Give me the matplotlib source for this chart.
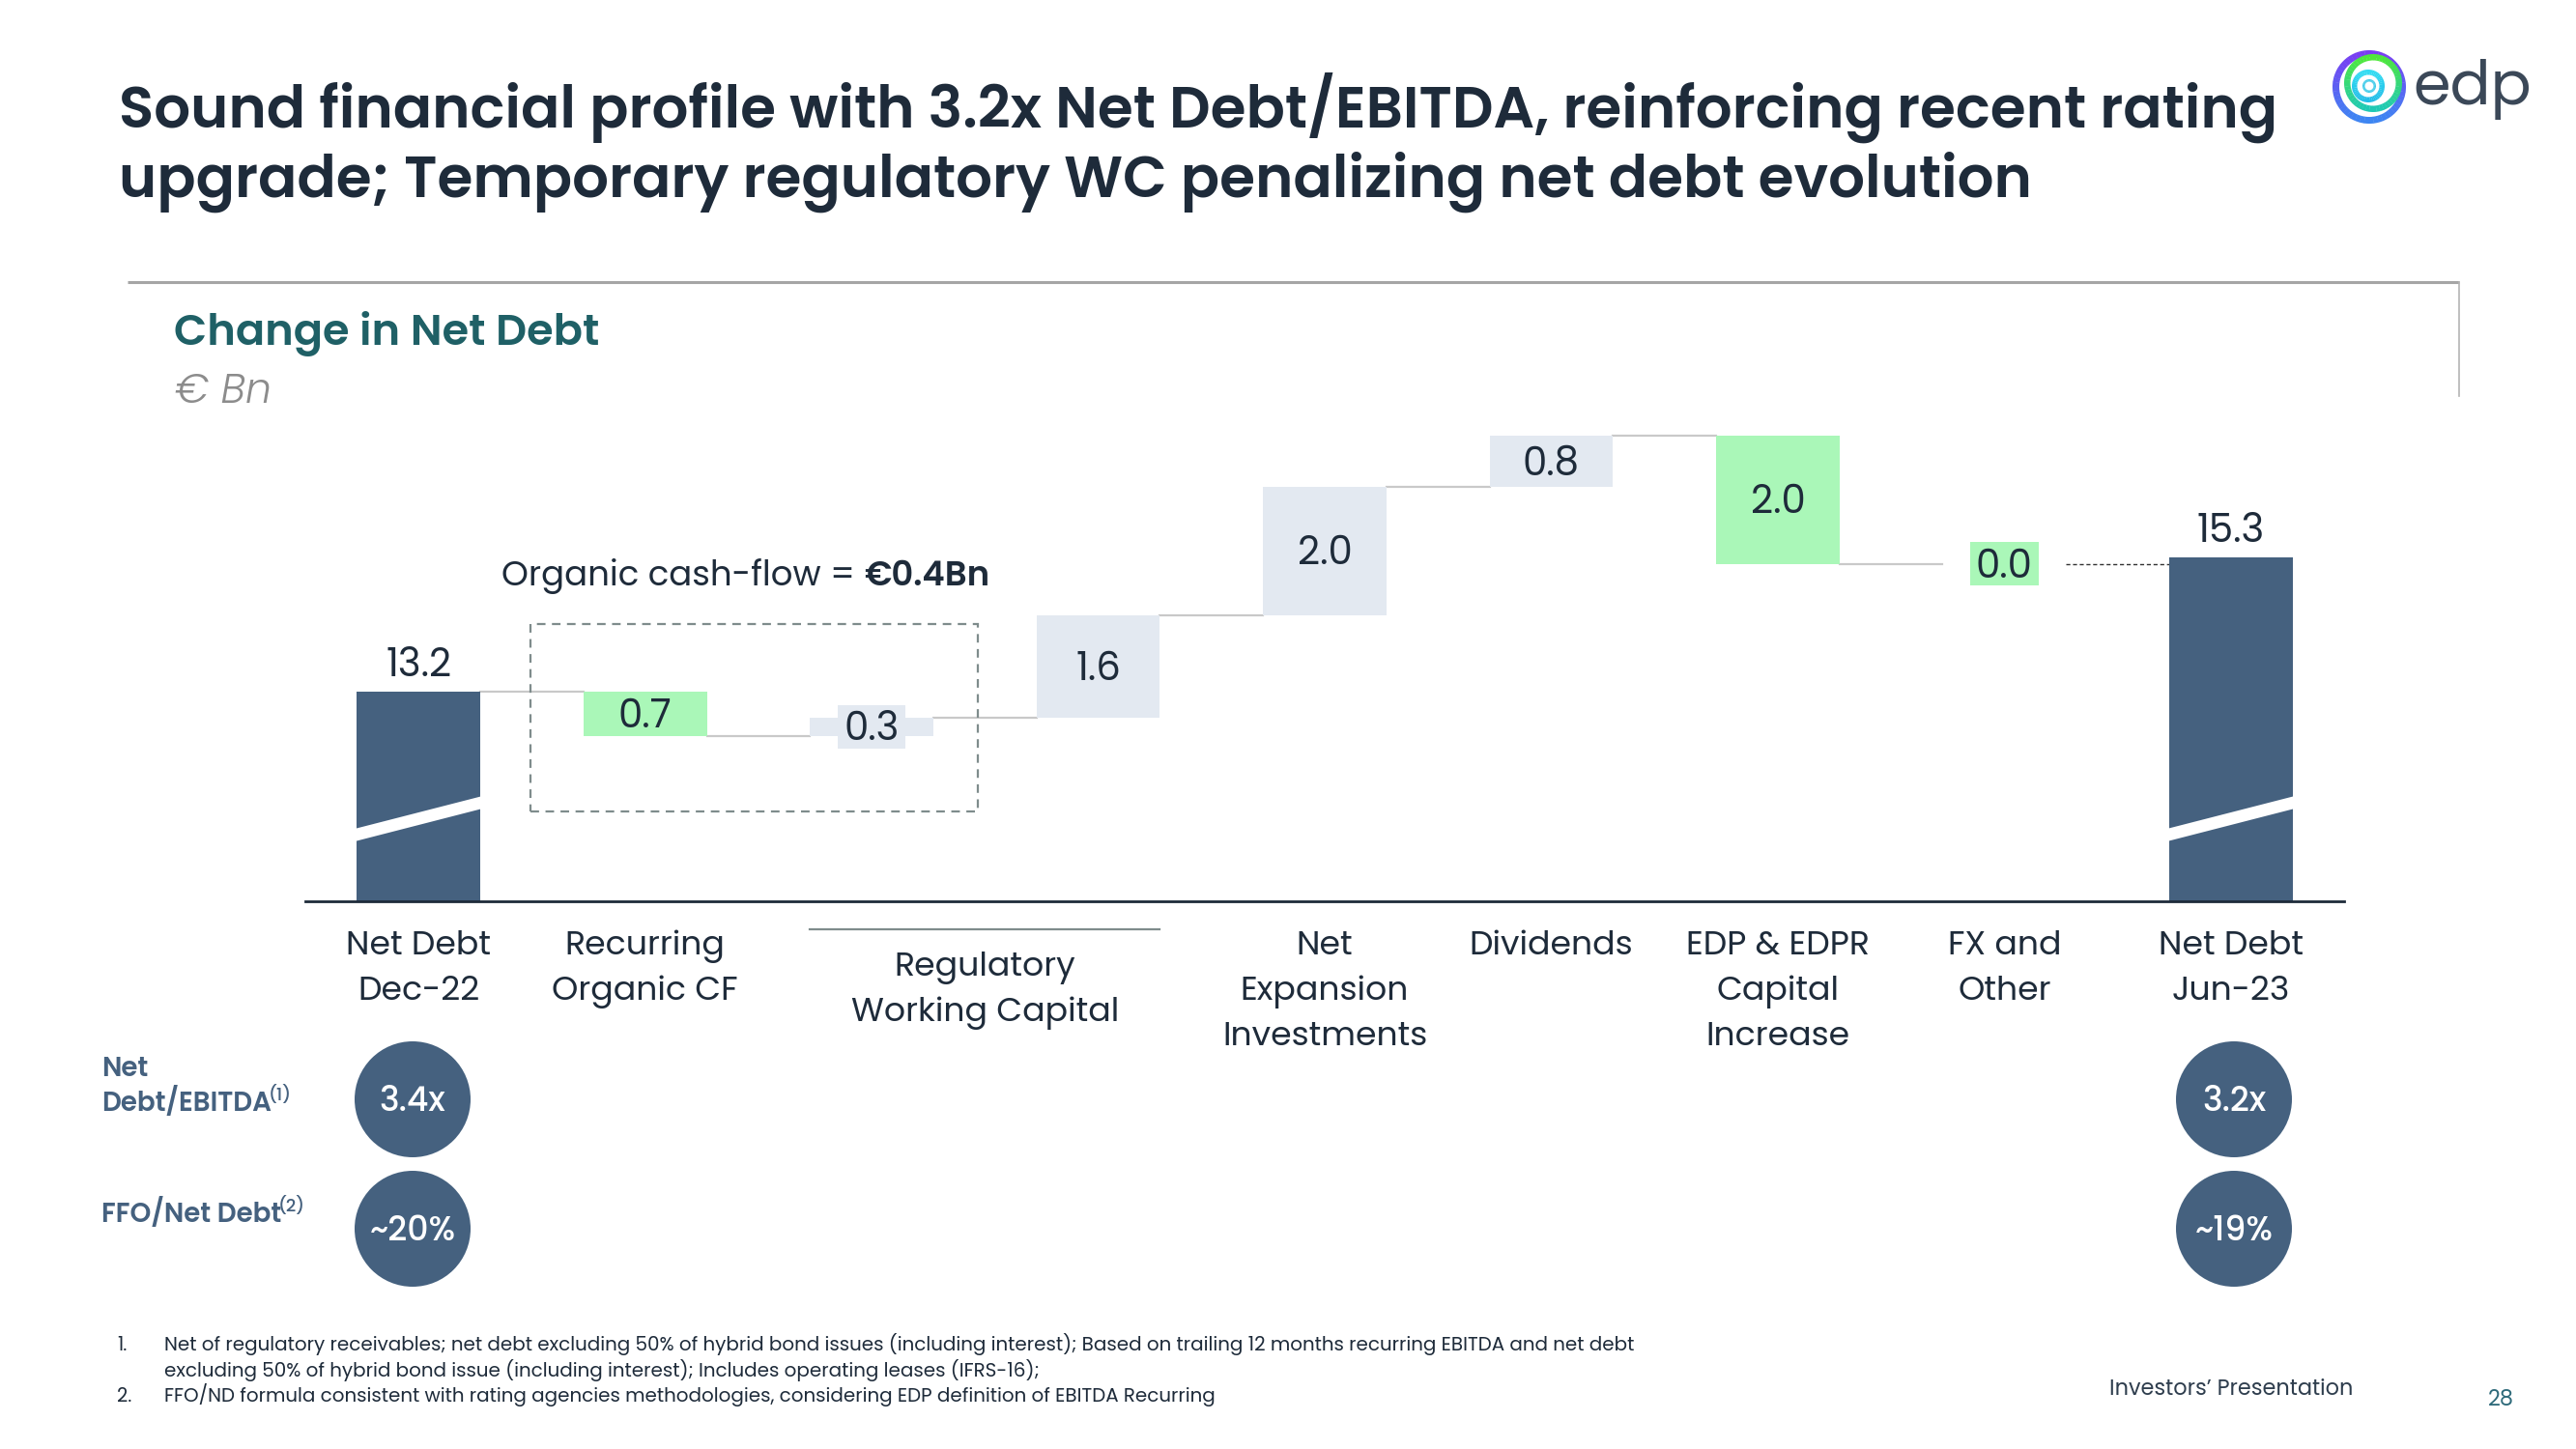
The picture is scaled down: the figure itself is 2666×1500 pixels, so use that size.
import matplotlib
matplotlib.use("Agg")
import matplotlib.pyplot as plt
import matplotlib.transforms as mtransforms
from matplotlib.patches import Circle, Rectangle, Polygon, Wedge
import numpy as np

# ---------------- data ----------------
title_lines = ["Sound financial profile with 3.2x Net Debt/EBITDA, reinforcing recent rating",
               "upgrade; Temporary regulatory WC penalizing net debt evolution"]
chart_title = "Change in Net Debt"
chart_unit = "€ Bn"
bar_kinds = ["total", "down", "up", "up", "up", "up", "down", "down", "total"]
bar_values = [13.2, 0.7, 0.3, 1.6, 2.0, 0.8, 2.0, 0.0, 15.3]
category_labels = ["Net Debt\nDec-22", "Recurring\nOrganic CF", "Regulatory\nWorking Capital",
                   "Net\nExpansion\nInvestments", "Dividends", "EDP & EDPR\nCapital\nIncrease",
                   "FX and\nOther", "Net Debt\nJun-23"]
category_positions = [0, 1, 2.5, 4, 5, 6, 7, 8]
organic_cf_text = "Organic cash-flow = "
organic_cf_value = "€0.4Bn"
metric_names = ["Net\nDebt/EBITDA", "FFO/Net Debt"]
metric_notes = ["(1)", "(2)"]
metric_dec22 = ["3.4x", "~20%"]
metric_jun23 = ["3.2x", "~19%"]
footnote_nums = ["1.", "", "2."]
footnote_lines = ["Net of regulatory receivables; net debt excluding 50% of hybrid bond issues (including interest); Based on trailing 12 months recurring EBITDA and net debt",
                  "excluding 50% of hybrid bond issue (including interest); Includes operating leases (IFRS-16);",
                  "FFO/ND formula consistent with rating agencies methodologies, considering EDP definition of EBITDA Recurring"]
footer_text = "Investors’ Presentation"
page_number = "28"

# ---------------- style ----------------
plt.rcParams['font.family'] = ['Poppins', 'DejaVu Sans']
DARK = '#1e2b3a'
NAVY = '#45617f'
GREEN = '#aaf7b8'
LIGHT = '#e3e9f1'
TEAL = '#1f6066'
W, H = 2666, 1500

fig = plt.figure(figsize=(W / 100, H / 100), dpi=100)
fig.patch.set_facecolor('white')

# main waterfall axes (pixel placement)
AX_L, AX_R, AX_T, AX_B = 316, 2426, 400, 933
ax = fig.add_axes([AX_L / W, 1 - AX_B / H, (AX_R - AX_L) / W, (AX_B - AX_T) / H])
YMIN, YMAX = 9.925, 17.97
ax.set_xlim(-0.5, 8.5)
ax.set_ylim(YMIN, YMAX)
for s in ['top', 'right', 'left']:
    ax.spines[s].set_visible(False)
ax.spines['bottom'].set_color(DARK)
ax.spines['bottom'].set_linewidth(2.0)
ax.set_xticks([])
ax.set_yticks([])
ax.patch.set_alpha(0)

# overlay axes in pixel coordinates (y downwards)
ax_o = fig.add_axes([0, 0, 1, 1], zorder=5)
ax_o.set_xlim(0, W)
ax_o.set_ylim(H, 0)
ax_o.axis('off')
ax_o.patch.set_alpha(0)

renderer = fig.canvas.get_renderer()


def fit_width(t, w):
    bb = t.get_window_extent(renderer)
    t.set_fontsize(t.get_fontsize() * w / bb.width)
    return t


# ---------------- waterfall ----------------
BW = 0.545
x = np.arange(len(bar_values))
bottoms, tops, ends, colors = [], [], [], []
level = 0.0
for kind, v in zip(bar_kinds, bar_values):
    if kind == 'total':
        b, t = YMIN, v
        level = v
        colors.append(NAVY)
    elif kind == 'up':
        b, t = level, level + v
        level = t
        colors.append(LIGHT)
    else:
        b, t = level - v, level
        level = b
        colors.append(GREEN)
    bottoms.append(b)
    tops.append(t)
    ends.append(level)
bottoms = np.array(bottoms)
tops = np.array(tops)
ax.bar(x, tops - bottoms, bottom=bottoms, width=BW, color=colors, zorder=2)

# break marks on total bars
for i, kind in enumerate(bar_kinds):
    if kind == 'total':
        x0, x1 = i - BW / 2 - 0.01, i + BW / 2 + 0.01
        ax.add_patch(Polygon([(x0, 10.86), (x1, 11.374), (x1, 11.57), (x0, 11.057)],
                             closed=True, fc='white', ec='none', zorder=3))

# connectors
for i in range(len(bar_values) - 1):
    xa, xb = i + BW / 2, i + 1 - BW / 2
    if i == len(bar_values) - 2:
        ax.plot([xa, xb], [ends[i], ends[i]], color='#333333', lw=1.0, ls=(0, (3, 2)), zorder=1)
    else:
        ax.plot([xa, xb], [ends[i], ends[i]], color='#c9c9c9', lw=1.6, zorder=1)

# value labels
VAL_FS = 29
CAP_PX = 0.697 * VAL_FS * 100 / 72
for i, (kind, v) in enumerate(zip(bar_kinds, bar_values)):
    lab = f"{v:.1f}"
    if kind == 'total':
        ax.annotate(lab, xy=(i, tops[i]), xytext=(0, 16), textcoords='offset pixels',
                    ha='center', va='baseline', fontsize=VAL_FS, weight=400, color=DARK, zorder=5)
    else:
        mid = (bottoms[i] + tops[i]) / 2
        if v < 0.5:
            bw_, bh_ = 0.30, 0.68
            ax.add_patch(Rectangle((i - bw_ / 2, mid - bh_ / 2), bw_, bh_, fc=colors[i], ec='none', zorder=2))
        ax.annotate(lab, xy=(i, mid), xytext=(0, -CAP_PX / 2), textcoords='offset pixels',
                    ha='center', va='baseline', fontsize=VAL_FS, weight=400, color=DARK, zorder=5)

# organic cash-flow dashed box
ax.add_patch(Rectangle((0.495, 11.328), 2.47 - 0.495, 14.257 - 11.328, fill=False, ec='#7f8c8c',
                       lw=1.6, ls=(0, (4, 3)), zorder=1, clip_on=False))

# category labels (x in data, y in pixels)
trans_lab = mtransforms.blended_transform_factory(ax.transData, ax_o.transData)
for pos, lab in zip(category_positions, category_labels):
    y0 = 1010 if pos == 2.5 else 988
    for k, line in enumerate(lab.split("\n")):
        ax_o.text(pos, y0 + 47 * k, line, transform=trans_lab, ha='center', va='baseline',
                  fontsize=25, weight=400, color=DARK)
ax_o.plot([2 - BW / 2, 3 + BW / 2], [962, 962], transform=trans_lab, color='#7f8c8c', lw=1.6)

# organic cash-flow text
t_oc = ax_o.text(519, 606, organic_cf_text, fontsize=24, weight=400, color=DARK, va='baseline')
t_ov = ax_o.annotate(organic_cf_value, xy=(1, 606), xycoords=(t_oc, 'data'), va='baseline', ha='left',
                     fontsize=24, weight=600, color=DARK)
w_tot = t_oc.get_window_extent(renderer).width + t_ov.get_window_extent(renderer).width
f = 505 / w_tot
t_oc.set_fontsize(24 * f)
t_ov.set_fontsize(24 * f)

# ---------------- titles ----------------
t1 = ax_o.text(123, 132, title_lines[0], fontsize=50, weight=600, color=DARK, va='baseline')
fit_width(t1, 2231)
ax_o.text(123, 204, title_lines[1], fontsize=t1.get_fontsize(), weight=600, color=DARK, va='baseline')

ax_o.plot([132, 2545], [292, 292], color='#a6a6a6', lw=2.2, solid_capstyle='butt')
ax_o.plot([2545, 2545], [292, 410], color='#b4b4b4', lw=1.2)

tc = ax_o.text(180, 357, chart_title, fontsize=30, weight=600, color=TEAL, va='baseline')
fit_width(tc, 440)
tu = ax_o.text(181, 417, chart_unit, fontsize=30, weight=300, style='italic', color='#8c8c8c', va='baseline')
fit_width(tu, 100)

# ---------------- logo ----------------
def mix(c1, c2, f):
    a = np.array(matplotlib.colors.to_rgb(c1))
    b = np.array(matplotlib.colors.to_rgb(c2))
    return tuple(a + (b - a) * f)


def ring(cx, cy, r, width, c1, c2, n=48):
    for k in range(n):
        a0 = 360 * k / n
        a1 = a0 + 360 / n + 0.6
        am = np.deg2rad((a0 + a1) / 2)
        f = (1 + np.sin(am)) / 2
        ax_o.add_patch(Wedge((cx, cy), r, a0, a1, width=width, fc=mix(c1, c2, f), ec='none'))


ring(2452, 90, 38, 7, '#7b3cf2', '#3d86f2')
ring(2456, 86, 30, 6.5, '#4fe83a', '#1fc9b5')
ring(2451, 89, 17, 5.5, '#33dcf2', '#22bde8')
ring(2452, 89, 7, 2.5, '#2fc7e8', '#2fc7e8')
te = ax_o.text(2497, 108, "edp", fontsize=46, weight=400, color='#3b4858', va='baseline')
fit_width(te, 123)

# ---------------- metrics ----------------
for k, (name, note, a, b) in enumerate(zip(metric_names, metric_notes, metric_dec22, metric_jun23)):
    cy = 1138 + 134 * k
    for cx, val in [(427, a), (2312, b)]:
        ax_o.add_patch(Circle((cx, cy), 60, fc=NAVY, ec='none'))
        ax_o.text(cx, cy + 12, val, ha='center', va='baseline', fontsize=25, weight=500, color='white')
    lines = name.split("\n")
    base = 1150 if k == 0 else 1265
    for j, line in enumerate(lines):
        yb = base - 36 * (len(lines) - 1 - j)
        tl = ax_o.text(105, yb, line, fontsize=20, weight=600, color=NAVY, va='baseline')
    ax_o.annotate(note, xy=(1, base - 11), xycoords=(tl, 'data'), xytext=(-3, 0), textcoords='offset pixels',
                  va='baseline', ha='left', fontsize=13, weight=500, color=NAVY)

# ---------------- footnotes ----------------
fl = []
for k, (num, line) in enumerate(zip(footnote_nums, footnote_lines)):
    yb = 1398 + 26.5 * k
    if num:
        ax_o.text(121, yb, num, fontsize=14, weight=400, color=DARK, va='baseline')
    fl.append(ax_o.text(170, yb, line, fontsize=14, weight=400, color=DARK, va='baseline'))
fit_width(fl[0], 1527)
for t in fl[1:]:
    t.set_fontsize(fl[0].get_fontsize())

tf = ax_o.text(2183, 1444, footer_text, fontsize=16, weight=400, color='#2f3e4e', va='baseline')
fit_width(tf, 252)
ax_o.text(2588, 1455, page_number, fontsize=16, weight=400, color='#2e6a7a', va='baseline', ha='center')

fig.savefig("out.png", dpi=100, facecolor='white')
